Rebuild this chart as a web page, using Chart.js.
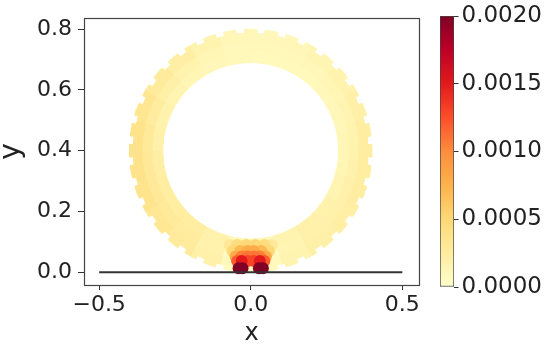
<!DOCTYPE html>
<html>
<head>
<meta charset="utf-8">
<script src="https://cdn.jsdelivr.net/npm/chart.js@4.4.0/dist/chart.umd.min.js"></script>
<style>
  html, body { margin: 0; padding: 0; background: #fff; }
  #wrap { position: relative; width: 553px; height: 350px; }
  #main { position: absolute; left: 0; top: 0; }
  #cbar { position: absolute; left: 430px; top: 0; }
</style>
</head>
<body>
<div id="wrap">
  <canvas id="main" width="430" height="350"></canvas>
  <canvas id="cbar" width="123" height="350"></canvas>
</div>
<script>
// field values on the ring, 24 sectors of 15 deg each, counter-clockwise from +x
const innerVals = [0.00012, 0.00011, 0.00010, 0.00009, 0.00009, 0.00009, 0.00010, 0.00011,
                   0.00013, 0.00015, 0.00018, 0.00020, 0.00022, 0.00024, 0.00025, 0.00024,
                   0.00018, 0.00010, 0.00010, 0.00016, 0.00020, 0.00018, 0.00015, 0.00013];
const midVals   = [0.00017, 0.00015, 0.00013, 0.00011, 0.00010, 0.00010, 0.00010, 0.00013,
                   0.00017, 0.00021, 0.00026, 0.00029, 0.00030, 0.00030, 0.00029, 0.00026,
                   0.00018, 0.00007, 0.00007, 0.00015, 0.00020, 0.00020, 0.00019, 0.00018];
const outerVals = [0.00024, 0.00021, 0.00017, 0.00014, 0.00012, 0.00011, 0.00012, 0.00016,
                   0.00022, 0.00028, 0.00034, 0.00038, 0.00038, 0.00036, 0.00032, 0.00028,
                   0.00020, 0.00008, 0.00008, 0.00016, 0.00021, 0.00022, 0.00024, 0.00025];

// samples in the contact zone at the bottom of the ring
const hotX = [-0.07, -0.045, -0.015, 0.015, 0.045, 0.07,
              -0.06, -0.035, -0.01, 0.01, 0.035, 0.06,
              -0.05, -0.03, -0.01, 0.01, 0.03, 0.05,
              -0.045, -0.03, -0.01, 0.01, 0.03, 0.045,
              -0.04, -0.027, 0.027, 0.04];
const hotY = [0.09, 0.09, 0.09, 0.09, 0.09, 0.09,
              0.07, 0.07, 0.07, 0.07, 0.07, 0.07,
              0.052, 0.052, 0.052, 0.052, 0.052, 0.052,
              0.037, 0.037, 0.037, 0.037, 0.037, 0.037,
              0.013, 0.013, 0.013, 0.013];
const hotV = [0.0003, 0.00045, 0.0005, 0.0005, 0.00045, 0.0003,
              0.0005, 0.0007, 0.0008, 0.0008, 0.0007, 0.0005,
              0.0008, 0.00105, 0.0011, 0.0011, 0.00105, 0.0008,
              0.0012, 0.0015, 0.0013, 0.0013, 0.0015, 0.0012,
              0.0022, 0.0022, 0.0022, 0.0022];

const surfaceX = [-0.5, 0.5];
const surfaceY = [0, 0];

const xTicks = [-0.5, 0, 0.5];
const yTicks = [0, 0.2, 0.4, 0.6, 0.8];
const cbarTicks = [0, 0.0005, 0.001, 0.0015, 0.002];
const vMax = 0.002;

// ring geometry
const CX = 0, CY = 0.4;
const radii = [0.29, 0.322, 0.355, 0.387];
const R_TIP = 0.4;
const TEETH = 36, TOOTH_FRAC = 0.6, TOOTH_OFF = 87;
const SECT = 15;

const FONT = "'DejaVu Sans', sans-serif";
const ylorrd = ['#ffffcc', '#ffeda0', '#fed976', '#feb24c', '#fd8d3c', '#fc4e2a', '#e31a1c', '#bd0026', '#800026'];

function hex(h) {
  return [1, 3, 5].map(i => parseInt(h.substr(i, 2), 16));
}
function cmap(v) {
  const t = Math.min(Math.max(v / vMax, 0), 1) * 8;
  const i = Math.min(Math.floor(t), 7);
  const f = t - i;
  const a = hex(ylorrd[i]), b = hex(ylorrd[i + 1]);
  const c = a.map((ai, k) => Math.round(ai + (b[k] - ai) * f));
  return 'rgb(' + c.join(',') + ')';
}

const pitch = 360 / TEETH;
function toothR(deg) {
  const p = (((deg - TOOTH_OFF) % pitch) + pitch) % pitch;
  return p < pitch * TOOTH_FRAC ? R_TIP : radii[3];
}
function pt(r, deg) {
  const a = deg * Math.PI / 180;
  return { x: CX + r * Math.cos(a), y: CY + r * Math.sin(a) };
}
function arc(r, a0, a1) {
  const n = Math.max(2, Math.ceil(Math.abs(a1 - a0)) + 1);
  const out = [];
  for (let k = 0; k < n; k++) out.push(pt(r, a0 + (a1 - a0) * k / (n - 1)));
  return out;
}
function toothedArc(a0, a1) {
  const cuts = [a0, a1];
  const start = Math.floor((a0 - TOOTH_OFF) / pitch) * pitch + TOOTH_OFF;
  for (let b = start; b < a1; b += pitch) {
    [b, b + pitch * TOOTH_FRAC].forEach(c => {
      if (c > a0 + 1e-6 && c < a1 - 1e-6) cuts.push(c);
    });
  }
  cuts.sort((p, q) => p - q);
  let out = [];
  for (let k = 0; k < cuts.length - 1; k++) {
    out = out.concat(arc(toothR((cuts[k] + cuts[k + 1]) / 2), cuts[k], cuts[k + 1]));
  }
  return out;
}

// Chart.js paints dataset 0 last, so the list goes top layer first
const datasets = [];

datasets.push({
  data: surfaceX.map((x, i) => ({ x: x, y: surfaceY[i] })),
  borderColor: '#333',
  borderWidth: 2,
  pointRadius: 0,
  fill: false
});

// contact zone, low values first so the peaks end up on top
const order = hotV.map((v, i) => i).sort((a, b) => hotV[a] - hotV[b]);
datasets.push({
  data: order.map(i => ({ x: hotX[i], y: hotY[i] })),
  showLine: false,
  pointRadius: 6,
  pointBorderWidth: 0,
  pointBackgroundColor: order.map(i => cmap(hotV[i]))
});

[innerVals, midVals, outerVals].forEach((vals, L) => {
  vals.forEach((v, i) => {
    const a0 = i * SECT, a1 = a0 + SECT;
    const outer = L === 2 ? toothedArc(a0, a1) : arc(radii[L + 1], a0, a1);
    const inner = arc(radii[L], a1, a0);
    const c = cmap(v);
    datasets.push({
      data: outer.concat(inner),
      fill: 'shape',
      backgroundColor: c,
      borderColor: c,
      borderWidth: 1,
      pointRadius: 0,
      tension: 0
    });
  });
});

const frame = {
  id: 'frame',
  afterDatasetsDraw(chart) {
    const { ctx, chartArea: a } = chart;
    ctx.save();
    ctx.strokeStyle = '#444';
    ctx.lineWidth = 1.2;
    ctx.strokeRect(Math.round(a.left) + 0.5, Math.round(a.top) + 0.5,
      Math.round(a.right - a.left), Math.round(a.bottom - a.top));
    ctx.restore();
  }
};

new Chart(document.getElementById('main'), {
  type: 'line',
  data: { datasets: datasets },
  options: {
    responsive: false,
    animation: false,
    events: [],
    layout: { padding: { left: 0, right: 11, top: 18, bottom: 0 } },
    plugins: { legend: { display: false }, tooltip: { enabled: false } },
    scales: {
      x: {
        type: 'linear',
        min: -0.55,
        max: 0.555,
        afterBuildTicks: s => { s.ticks = xTicks.map(v => ({ value: v })); },
        afterFit: s => { s.height = 65; s.paddingLeft = 0; s.paddingRight = 0; },
        ticks: {
          font: { family: FONT, size: 22 },
          color: '#222',
          padding: 2,
          maxRotation: 0,
          callback: v => v < 0 ? '\u2212' + Math.abs(v).toFixed(1) : v.toFixed(1)
        },
        grid: { drawOnChartArea: false, tickLength: 5, color: '#333' },
        border: { display: false },
        title: { display: true, text: 'x', font: { family: FONT, size: 24 }, color: '#222', padding: { top: 0, bottom: 1.5 } }
      },
      y: {
        type: 'linear',
        min: -0.042,
        max: 0.837,
        afterBuildTicks: s => { s.ticks = yTicks.map(v => ({ value: v })); },
        afterFit: s => { s.width = 84; s.paddingTop = 0; s.paddingBottom = 0; },
        ticks: {
          font: { family: FONT, size: 22 },
          color: '#222',
          padding: 6,
          callback: v => v.toFixed(1)
        },
        grid: { drawOnChartArea: false, tickLength: 6, color: '#333' },
        border: { display: false },
        title: { display: true, text: 'y', font: { family: FONT, size: 28, lineHeight: 0.8 }, color: '#222', padding: { top: 1, bottom: 0 } }
      }
    }
  },
  plugins: [frame]
});

new Chart(document.getElementById('cbar'), {
  type: 'bar',
  data: {
    labels: [''],
    datasets: [{
      data: [[0, vMax]],
      backgroundColor: ctx => {
        const area = ctx.chart.chartArea;
        if (!area) return ylorrd[0];
        const g = ctx.chart.ctx.createLinearGradient(0, area.bottom, 0, area.top);
        ylorrd.forEach((c, i) => g.addColorStop(i / 8, c));
        return g;
      },
      borderColor: '#444',
      borderWidth: 1,
      borderSkipped: false,
      categoryPercentage: 1,
      barPercentage: 1
    }]
  },
  options: {
    responsive: false,
    animation: false,
    events: [],
    layout: { padding: { left: 10, right: 0, top: 16, bottom: 63 } },
    plugins: { legend: { display: false }, tooltip: { enabled: false } },
    scales: {
      x: { display: false },
      y: {
        position: 'right',
        min: 0,
        max: vMax,
        afterBuildTicks: s => { s.ticks = cbarTicks.map(v => ({ value: v })); },
        afterFit: s => { s.width = 99; s.paddingTop = 0; s.paddingBottom = 0; },
        ticks: {
          font: { family: FONT, size: 23 },
          color: '#222',
          padding: 3,
          callback: v => v.toFixed(4)
        },
        grid: { drawOnChartArea: false, tickLength: 4.5, color: '#333' },
        border: { display: false }
      }
    }
  }
});
</script>
</body>
</html>
